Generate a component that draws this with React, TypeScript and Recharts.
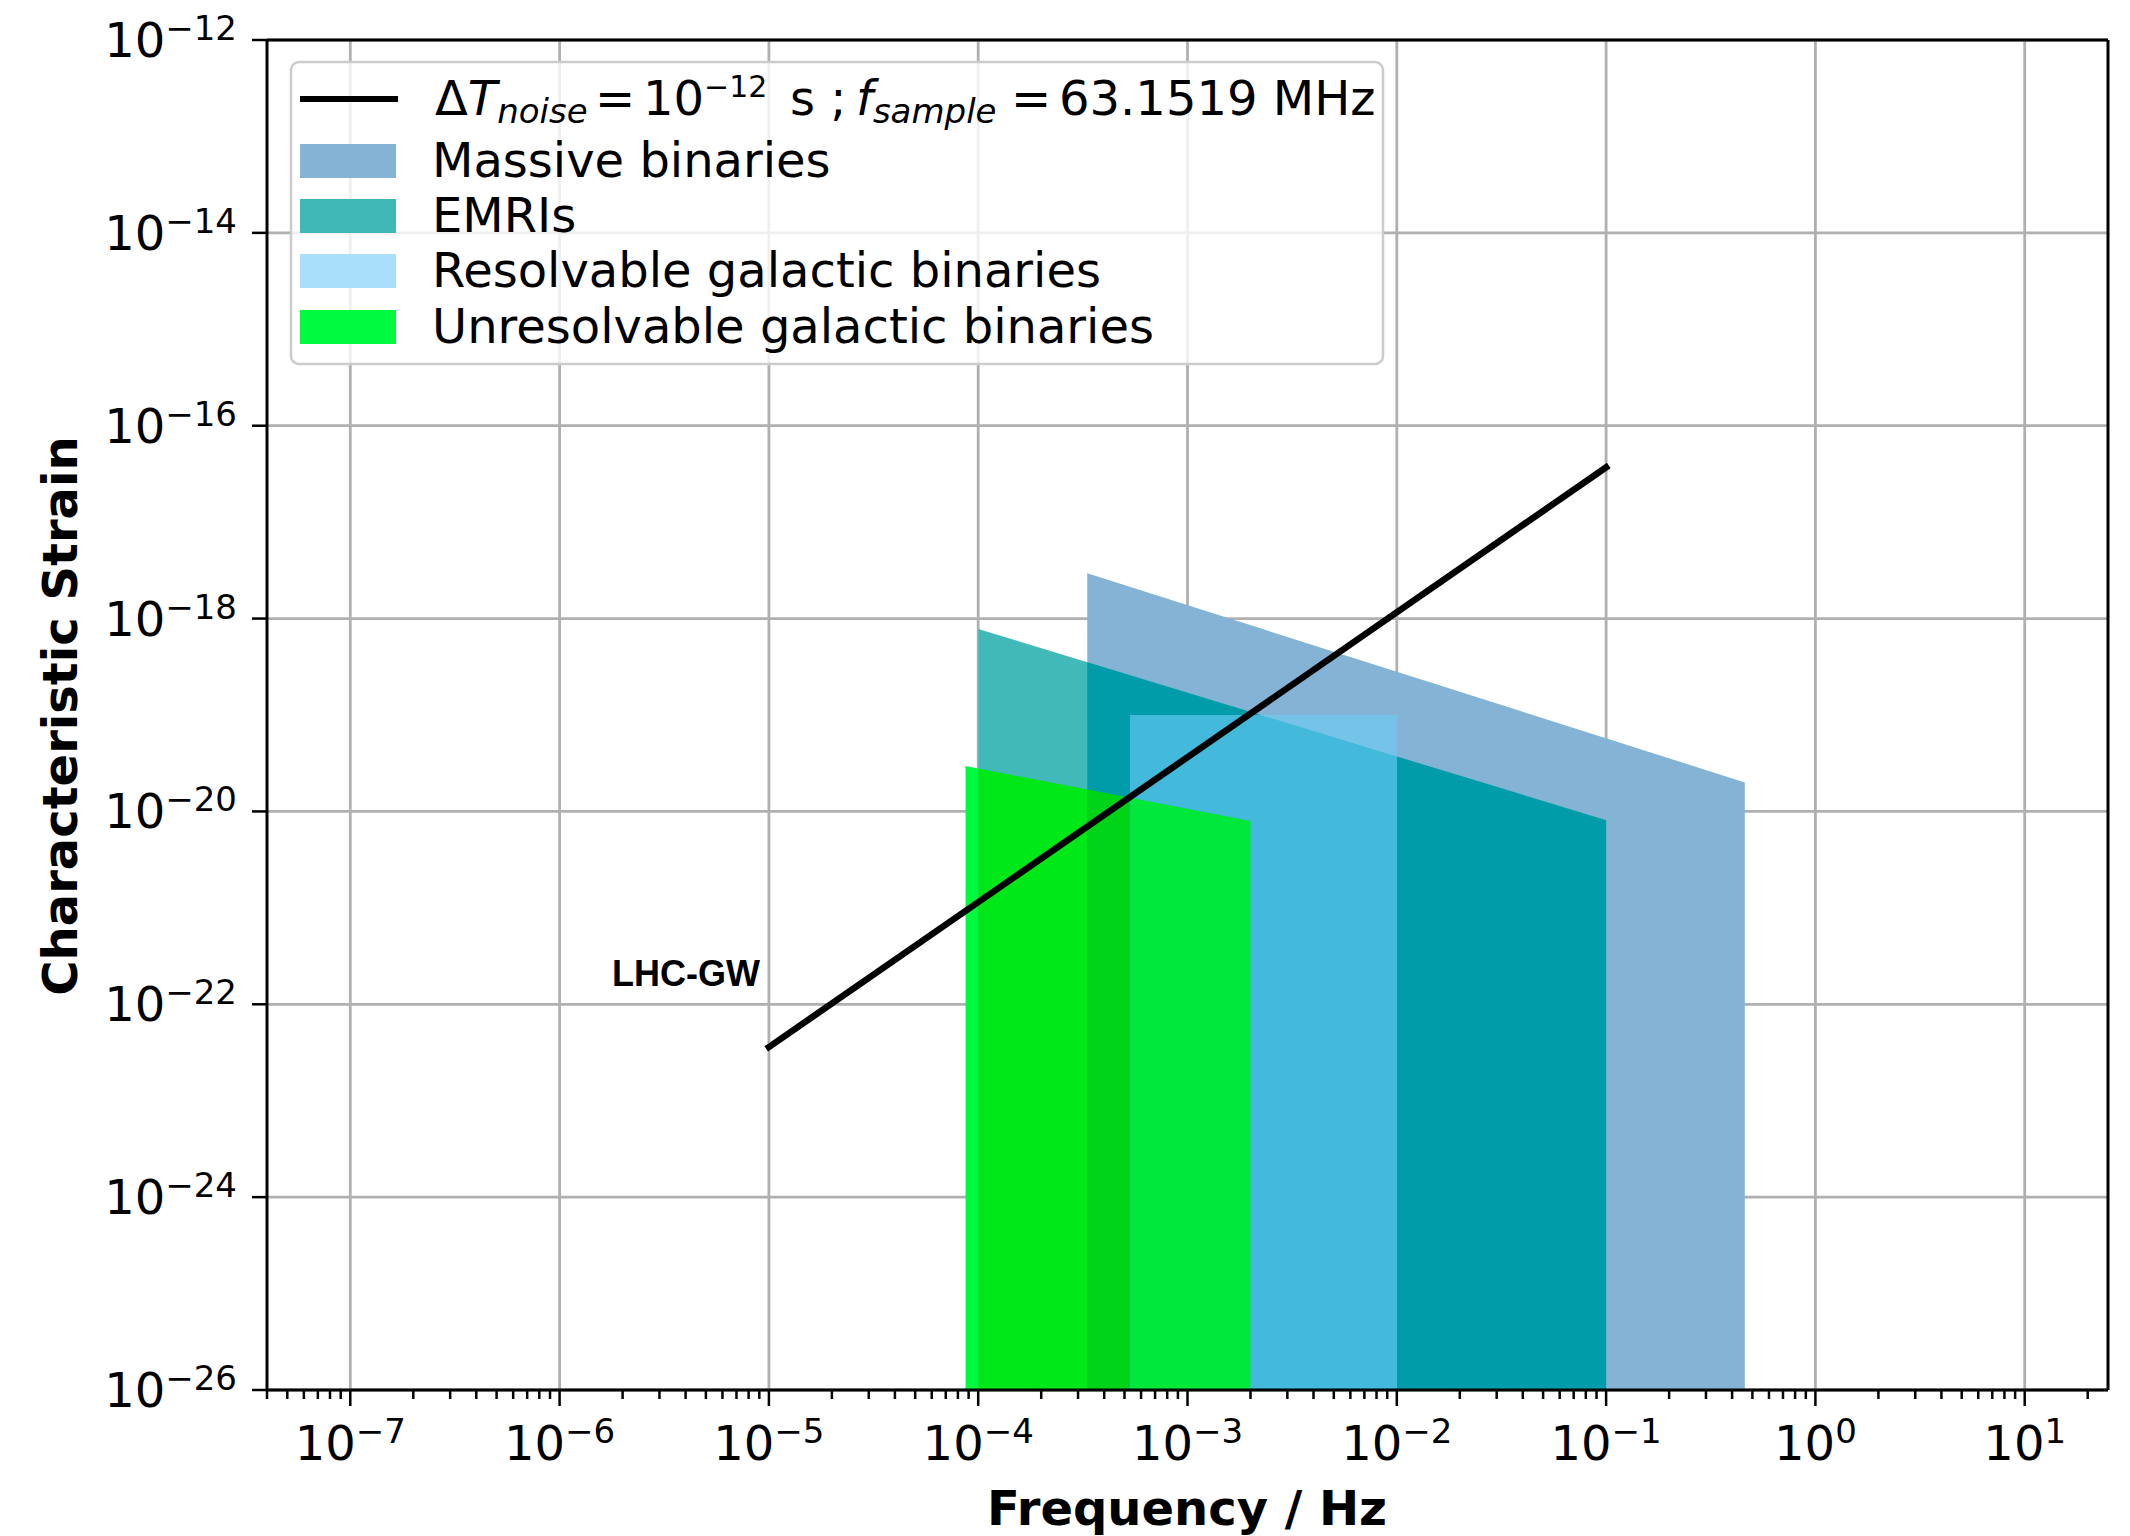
import React from 'react';
import { ComposedChart, Area, Line, XAxis, YAxis, CartesianGrid } from 'recharts';

// axis ranges and tick labels (powers of ten)
const X_DOMAIN = [4e-8, 25];
const Y_DOMAIN = [1e-26, 1e-12];
const X_MAJOR_EXP = [-7, -6, -5, -4, -3, -2, -1, 0, 1];
const Y_MAJOR_EXP = [-26, -24, -22, -20, -18, -16, -14, -12];
const MINOR_MULT = [2, 3, 4, 5, 6, 7, 8, 9];

// source regions: frequency edges (Hz) and strain at those edges
const MASSIVE_F = [3.32e-4, 0.46];
const MASSIVE_H = [2.95e-18, 2.0e-20];
const EMRI_F = [1e-4, 0.1];
const EMRI_H = [7.8e-19, 8.1e-21];
const RESOLV_F = [5.33e-4, 1e-2];
const RESOLV_H = [1e-19, 1e-19];
const UNRES_F = [8.7e-5, 2e-3];
const UNRES_H = [2.95e-20, 7.96e-21];

// LHC-GW sensitivity line
const LHC_F = [1e-5, 0.1];
const LHC_H = [3.6e-23, 3.7e-17];

const FONT = '"DejaVu Sans", sans-serif';
const GRID = '#b0b0b0';

const X_MAJOR = X_MAJOR_EXP.map((e) => 10 ** e);
const Y_MAJOR = Y_MAJOR_EXP.map((e) => 10 ** e);
const X_TICKS = [...X_MAJOR];
for (let e = -8; e <= 1; e++) {
  MINOR_MULT.forEach((m) => {
    const v = m * 10 ** e;
    if (v >= X_DOMAIN[0] * 0.999 && v <= X_DOMAIN[1] * 1.001) X_TICKS.push(v);
  });
}
X_TICKS.sort((a, b) => a - b);

type Shape = { F: number[]; H: number[] };
const lg = Math.log10;
const MASSIVE: Shape = { F: MASSIVE_F, H: MASSIVE_H };
const EMRI: Shape = { F: EMRI_F, H: EMRI_H };
const RESOLV: Shape = { F: RESOLV_F, H: RESOLV_H };
const UNRES: Shape = { F: UNRES_F, H: UNRES_H };

// top edge of a region is straight in log-log space
const slope = (s: Shape) => (lg(s.H[1]) - lg(s.H[0])) / (lg(s.F[1]) - lg(s.F[0]));
const topLog = (s: Shape, l: number) => lg(s.H[0]) + slope(s) * (l - lg(s.F[0]));

// area where all shapes overlap (optionally limited to [lo, hi])
function overlap(shapes: Shape[], lo?: number, hi?: number) {
  const a = Math.max(...shapes.map((s) => s.F[0]), lo ?? 0);
  const b = Math.min(...shapes.map((s) => s.F[1]), hi ?? Infinity);
  const ls = [lg(a), lg(b)];
  for (let i = 0; i < shapes.length; i++) {
    for (let j = i + 1; j < shapes.length; j++) {
      const d = slope(shapes[i]) - slope(shapes[j]);
      if (Math.abs(d) < 1e-9) continue;
      const l = (topLog(shapes[j], 0) - topLog(shapes[i], 0)) / d;
      if (l > ls[0] && l < ls[1]) ls.push(l);
    }
  }
  ls.sort((p, q) => p - q);
  return ls.map((l) => ({
    f: 10 ** l,
    band: [Y_DOMAIN[0], 10 ** Math.min(...shapes.map((s) => topLog(s, l)))],
  }));
}

const LAYERS = [
  { key: 'massive', data: overlap([MASSIVE]), color: '#84b3d5' },
  { key: 'emri', data: overlap([EMRI]), color: '#42b9b9' },
  { key: 'emri-massive', data: overlap([EMRI, MASSIVE]), color: '#009ca9' },
  { key: 'resolv', data: overlap([RESOLV]), color: '#76c3ea' },
  { key: 'resolv-emri', data: overlap([RESOLV, EMRI]), color: '#43b9dc' },
  { key: 'unres-a', data: overlap([UNRES], UNRES_F[0], EMRI_F[0]), color: '#00fa3e' },
  { key: 'unres-b', data: overlap([UNRES], EMRI_F[0], MASSIVE_F[0]), color: '#00e818' },
  { key: 'unres-c', data: overlap([UNRES], MASSIVE_F[0], RESOLV_F[0]), color: '#00d418' },
  { key: 'unres-d', data: overlap([UNRES], RESOLV_F[0], UNRES_F[1]), color: '#00e83a' },
];

const LHC_DATA = LHC_F.map((f, i) => ({ f, h: LHC_H[i] }));

const LEGEND = [
  { label: 'Massive binaries', color: '#85b3d5' },
  { label: 'EMRIs', color: '#40b8b8' },
  { label: 'Resolvable galactic binaries', color: '#a9dffa' },
  { label: 'Unresolvable galactic binaries', color: '#00fa40' },
];

const expText = (e: number) => (e < 0 ? `\u2212${-e}` : `${e}`);

const XTick = (props: any) => {
  const { x, y, payload } = props;
  const l = lg(payload.value);
  const e = Math.round(l);
  const major = Math.abs(l - e) < 1e-6;
  return (
    <g>
      <line x1={x} x2={x} y1={y} y2={y + (major ? 16 : 9)} stroke="#000" strokeWidth={2.5} />
      {major && (
        <text x={x} y={y + 70} textAnchor="middle" fontFamily={FONT} fontSize={48} fill="#000">
          <tspan>10</tspan>
          <tspan dy={-17} fontSize={34}>{expText(e)}</tspan>
        </text>
      )}
    </g>
  );
};

const YTick = (props: any) => {
  const { x, y, payload } = props;
  const e = Math.round(lg(payload.value));
  return (
    <g>
      <line x1={x - 15} x2={x} y1={y} y2={y} stroke="#000" strokeWidth={2.5} />
      <text x={x - 30} y={y + 17} textAnchor="end" fontFamily={FONT} fontSize={48} fill="#000">
        <tspan>10</tspan>
        <tspan dy={-17} fontSize={34}>{expText(e)}</tspan>
      </text>
    </g>
  );
};

const LEGEND_ROWS = [177, 232, 287, 343];

const App: React.FC = () => {
  return (
    <div style={{ position: 'absolute', left: 0, top: 0, width: 2130, height: 1536, background: '#fff' }}>
      <ComposedChart width={2130} height={1536} margin={{ top: 38, right: 20, bottom: 46, left: 117 }}>
        <XAxis
          dataKey="f"
          type="number"
          scale="log"
          domain={X_DOMAIN}
          allowDataOverflow
          ticks={X_TICKS}
          interval={0}
          tick={XTick}
          tickLine={false}
          tickSize={0}
          tickMargin={0}
          height={100}
          axisLine={{ stroke: '#000', strokeWidth: 3 }}
        />
        <XAxis
          xAxisId="top"
          orientation="top"
          dataKey="f"
          type="number"
          scale="log"
          domain={X_DOMAIN}
          allowDataOverflow
          tick={false}
          tickLine={false}
          height={2}
          axisLine={{ stroke: '#000', strokeWidth: 3 }}
        />
        <YAxis
          type="number"
          scale="log"
          domain={Y_DOMAIN}
          allowDataOverflow
          ticks={Y_MAJOR}
          interval={0}
          tick={YTick}
          tickLine={false}
          tickSize={0}
          tickMargin={0}
          width={150}
          axisLine={{ stroke: '#000', strokeWidth: 3 }}
        />
        <YAxis
          yAxisId="right"
          orientation="right"
          type="number"
          scale="log"
          domain={Y_DOMAIN}
          allowDataOverflow
          tick={false}
          tickLine={false}
          width={2}
          axisLine={{ stroke: '#000', strokeWidth: 3 }}
        />
        {LAYERS.map((layer) => (
          <Area
            key={layer.key}
            data={layer.data}
            dataKey="band"
            type="linear"
            stroke="none"
            fill={layer.color}
            fillOpacity={1}
            dot={false}
            activeDot={false}
            isAnimationActive={false}
          />
        ))}
        <CartesianGrid stroke={GRID} strokeWidth={2.8} verticalValues={X_MAJOR} horizontalValues={Y_MAJOR} />
        <Line
          data={LHC_DATA}
          dataKey="h"
          type="linear"
          stroke="#000"
          strokeWidth={6.5}
          strokeLinecap="square"
          dot={false}
          activeDot={false}
          isAnimationActive={false}
        />
      </ComposedChart>

      <svg width={2130} height={1536} style={{ position: 'absolute', left: 0, top: 0, pointerEvents: 'none' }}>
        <rect x={291} y={62} width={1092} height={302} rx={8} fill="#fff" fillOpacity={0.8} stroke="#cccccc" strokeWidth={2.5} />
        <line x1={300} x2={398} y1={99} y2={99} stroke="#000" strokeWidth={6} />
        <text y={115} fontFamily={FONT} fontSize={48} fill="#000">
          <tspan x={435}>Δ</tspan>
          <tspan fontStyle="italic">T</tspan>
          <tspan fontStyle="italic" fontSize={34} dy={8}>noise</tspan>
          <tspan x={595} dy={-8}>=</tspan>
          <tspan x={643}>10</tspan>
          <tspan x={704} fontSize={30} dy={-18}>{'\u221212'}</tspan>
          <tspan x={790} dy={18}>s ;</tspan>
          <tspan x={856} fontStyle="italic">f</tspan>
          <tspan fontStyle="italic" fontSize={34} dy={8}>sample</tspan>
          <tspan x={1011} dy={-8}>=</tspan>
          <tspan x={1059}>63.1519 MHz</tspan>
        </text>
        {LEGEND.map((item, i) => (
          <g key={item.label}>
            <rect x={300} y={LEGEND_ROWS[i] - 33} width={96} height={34} fill={item.color} />
            <text x={432} y={LEGEND_ROWS[i]} fontFamily={FONT} fontSize={48} fill="#000">
              {item.label}
            </text>
          </g>
        ))}
        <text x={760} y={986} textAnchor="end" fontFamily='"Liberation Sans", Arial, sans-serif' fontWeight="bold" fontSize={36} fill="#000">
          LHC-GW
        </text>
        <text x={1187} y={1525} textAnchor="middle" fontFamily={FONT} fontWeight="bold" fontSize={48} fill="#000">
          Frequency / Hz
        </text>
        <text x={77} y={716} textAnchor="middle" transform="rotate(-90 77 716)" fontFamily={FONT} fontWeight="bold" fontSize={48} fill="#000">
          Characteristic Strain
        </text>
      </svg>
    </div>
  );
};

export default App;
